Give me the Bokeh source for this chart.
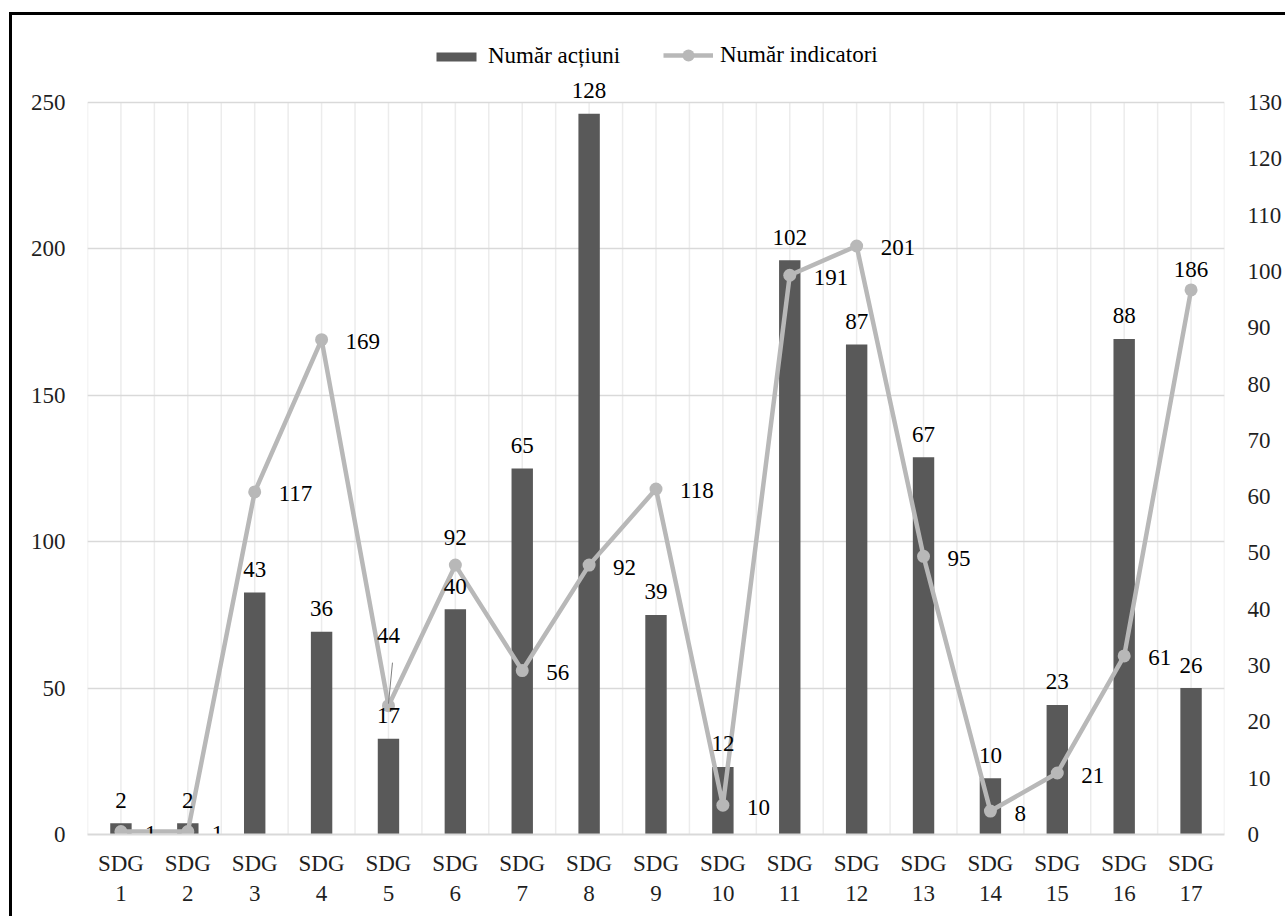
from bokeh.plotting import figure
from bokeh.models import (Range1d, LinearAxis, FixedTicker, Legend, LegendItem,
                          ColumnDataSource)
from bokeh.embed import file_html
from bokeh.resources import INLINE
from bokeh.core.properties import value

# --- data -------------------------------------------------------------------
goals = ["SDG\n1", "SDG\n2", "SDG\n3", "SDG\n4", "SDG\n5", "SDG\n6", "SDG\n7",
         "SDG\n8", "SDG\n9", "SDG\n10", "SDG\n11", "SDG\n12", "SDG\n13",
         "SDG\n14", "SDG\n15", "SDG\n16", "SDG\n17"]
actiuni = [2, 2, 43, 36, 17, 40, 65, 128, 39, 12, 102, 87, 67, 10, 23, 88, 26]
indicatori = [1, 1, 117, 169, 44, 92, 56, 92, 118, 10, 191, 201, 95, 8, 21, 61, 186]

# --- style ------------------------------------------------------------------
FAMILY = "'Liberation Serif', 'Times New Roman', serif"
FONT = value(FAMILY)
FS = "23px"
BAR = "#595959"
LINE = "#b8b8b8"
TXT = "#000000"
TICK = "#1f1f1f"

FRAME_W = 1137          # plot area width in px
AXIS_H = 732            # px between value 0 and the top gridline
HEAD = 82               # px kept above the top gridline for the legend
LEFT_MAX, RIGHT_MAX = 250, 130
scale = (AXIS_H + HEAD) / AXIS_H

xs = list(range(1, len(goals) + 1))

p = figure(width=1276, height=904, output_backend="svg", toolbar_location=None,
           x_range=Range1d(0.5, len(goals) + 0.5),
           y_range=Range1d(0, LEFT_MAX * scale),
           min_border_left=75, min_border_right=64, min_border_top=5,
           min_border_bottom=85, background_fill_color="white",
           border_fill_color="white", outline_line_color=None)
p.margin = (12, 0, 0, 9)
p.styles = {"border-top": "3px solid black", "border-left": "3px solid black"}
p.extra_y_ranges = {"right": Range1d(0, RIGHT_MAX * scale)}

# grid: horizontal lines on the left scale, vertical lines every half category
p.ygrid.ticker = FixedTicker(ticks=list(range(0, LEFT_MAX + 1, 50)))
p.ygrid.grid_line_color = "#d9d9d9"
p.ygrid.grid_line_width = 1.5
p.xgrid.visible = False
half_steps = [i / 2 for i in range(1, 2 * len(goals) + 2)]
p.segment(x0=half_steps, y0=[0] * len(half_steps), x1=half_steps,
          y1=[LEFT_MAX] * len(half_steps), line_color="#ececec", line_width=1.5,
          level="underlay")

# axes
xa = p.xaxis[0]
xa.ticker = FixedTicker(ticks=xs)
xa.major_label_overrides = {x: g for x, g in zip(xs, goals)}
xa.axis_line_color = "#d9d9d9"
xa.axis_line_width = 2
xa.major_tick_line_color = None
xa.minor_tick_line_color = None
xa.major_label_standoff = 10
xa.major_label_text_font = FAMILY
xa.major_label_text_font_size = FS
xa.major_label_text_color = TICK
xa.major_label_text_line_height = 1.2

ya = p.yaxis[0]
ya.ticker = FixedTicker(ticks=list(range(0, LEFT_MAX + 1, 50)))
ya.axis_line_color = None
ya.major_tick_line_color = None
ya.minor_tick_line_color = None
ya.major_label_standoff = 16
ya.major_label_text_font = FAMILY
ya.major_label_text_font_size = FS
ya.major_label_text_color = TICK

ra = LinearAxis(y_range_name="right",
                ticker=FixedTicker(ticks=list(range(0, RIGHT_MAX + 1, 10))))
ra.axis_line_color = None
ra.major_tick_line_color = None
ra.minor_tick_line_color = None
ra.major_label_standoff = 17
ra.major_label_text_font = FAMILY
ra.major_label_text_font_size = FS
ra.major_label_text_color = TICK
p.add_layout(ra, "right")

# bars (right scale) and line (left scale)
bars = p.vbar(x=xs, top=actiuni, width=0.32, y_range_name="right",
              fill_color=BAR, line_color=None)
line = p.line(x=xs, y=indicatori, line_color=LINE, line_width=4.5)
dots = p.scatter(x=xs, y=indicatori, size=13, fill_color=LINE, line_color=None)

# value labels on the bars
p.text(x=xs, y=actiuni, text=[str(v) for v in actiuni], y_range_name="right",
       y_offset=-23, text_align="center", text_baseline="middle",
       text_font=FONT, text_font_size=FS, text_color=TXT)

# value labels on the line: right of the point, a few placed above it
above = {4: -70, 5: -28, 16: -20}
lab = dict(x=xs, y=indicatori, text=[str(v) for v in indicatori],
           xo=[0 if i in above else 24 for i in range(len(xs))],
           yo=[above.get(i, 2) for i in range(len(xs))],
           al=["center" if i in above else "left" for i in range(len(xs))])
p.text(x="x", y="y", text="text", x_offset="xo", y_offset="yo",
       text_align="al", text_baseline="middle", text_font=FONT,
       text_font_size=FS, text_color=TXT, source=ColumnDataSource(lab))

# leader line from the moved SDG 5 label down to its point
ppu = AXIS_H / LEFT_MAX
k = 4
p.segment(x0=[xs[k] + 4 / (FRAME_W / len(goals))], y0=[indicatori[k] + 43 / ppu],
          x1=[xs[k]], y1=[indicatori[k] + 2 / ppu],
          line_color="#7f7f7f", line_width=1)

# two legends so each keeps its own glyph box height
common = dict(orientation="horizontal", glyph_width=50, label_standoff=7,
              padding=0, margin=0, border_line_color=None,
              background_fill_alpha=0, label_text_font=FAMILY,
              label_text_font_size=FS, label_text_color=TXT)
leg_bar = Legend(items=[LegendItem(label="Număr acțiuni", renderers=[bars])],
                 location=(344, 765), glyph_height=11, **common)
leg_line = Legend(items=[LegendItem(label="Număr indicatori", renderers=[line, dots])],
                  location=(576, 764), glyph_height=30, **common)
p.add_layout(leg_bar)
p.add_layout(leg_line)

open("out.html", "w").write(file_html(p, INLINE))
